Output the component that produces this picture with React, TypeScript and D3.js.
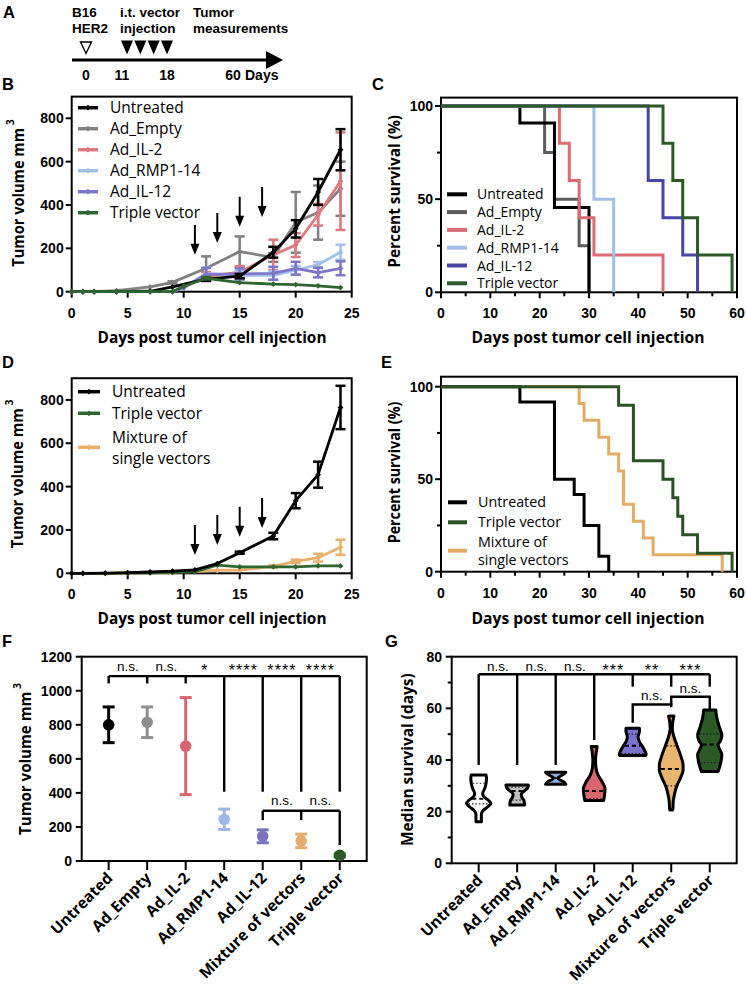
import React from "react";
import * as d3 from "d3";

const ARIAL = "'Liberation Sans', Arial, Helvetica, sans-serif";
const SANS = "'Open Sans', 'Noto Sans', sans-serif";

// ===== Panel A (schematic) =====
const timelineDays = [0, 11, 18, 60];
const injectionDoses = ["dose1", "dose2", "dose3", "dose4"];

// ===== Panel B =====
const bNames = ["Untreated", "Ad_Empty", "Ad_IL-2", "Ad_RMP1-14", "Ad_IL-12", "Triple vector"];
const bColors = ["#000000", "#808080", "#e07880", "#a0bfea", "#7e76c8", "#2f662f"];
const bDaysA = [0, 1, 2, 4, 7, 9, 12, 15, 18, 20, 22, 24];
const bDaysB = [0, 1, 2, 4, 7, 9, 10, 12, 15, 18, 20, 22, 24];
const bUntreatedMean = [0, 0, 0, 0, 2, 22, 58, 72, 182, 290, 460, 655];
const bUntreatedErr = [0, 0, 0, 0, 0, 3, 8, 10, 25, 40, 60, 95];
const bEmptyMean = [0, 0, 0, 5, 22, 43, 108, 185, 158, 320, 365, 475];
const bEmptyErr = [0, 0, 0, 1, 3, 5, 55, 70, 20, 140, 125, 125];
const bIL2Mean = [0, 0, 0, 0, 0, 0, 20, 70, 90, 170, 215, 355, 510];
const bIL2Err = [0, 0, 0, 0, 0, 0, 3, 20, 28, 70, 55, 50, 225];
const bRMPMean = [0, 0, 0, 0, 0, 0, 18, 85, 75, 75, 99, 125, 182];
const bRMPErr = [0, 0, 0, 0, 0, 0, 3, 25, 20, 20, 20, 12, 35];
const bIL12Mean = [0, 0, 0, 0, 0, 0, 18, 80, 82, 85, 108, 88, 108];
const bIL12Err = [0, 0, 0, 0, 0, 0, 3, 30, 25, 30, 30, 22, 32];
const bTripleMean = [0, 0, 0, 0, 0, 0, 25, 62, 42, 35, 33, 27, 19];
const bTripleErr = [0, 0, 0, 0, 0, 0, 2, 5, 4, 3, 3, 3, 2];
const bDrawOrder = [1, 2, 3, 4, 0, 5];
const growthXTicks = [0, 5, 10, 15, 20, 25];
const growthYTicks = [0, 200, 400, 600, 800];
const injectionDays = [11, 13, 15, 17];
const bArrowTips = [170, 225, 300, 345];

// ===== Panel C =====
const cNames = ["Untreated", "Ad_Empty", "Ad_IL-2", "Ad_RMP1-14", "Ad_IL-12", "Triple vector"];
const cColors = ["#000000", "#5c5c5c", "#dc6b72", "#9fbfe9", "#4945a6", "#2b5a26"];
const cUntreatedT = [16, 23, 30];
const cUntreatedS = [90.9, 45.5, 0];
const cEmptyT = [21, 23, 28, 30];
const cEmptyS = [75, 50, 25, 0];
const cIL2T = [24, 26, 28, 31, 45];
const cIL2S = [80, 60, 40, 20, 0];
const cRMPT = [31, 35];
const cRMPS = [50, 0];
const cIL12T = [42, 45, 49, 52];
const cIL12S = [60, 40, 20, 0];
const cTripleT = [45, 47, 49, 52, 59];
const cTripleS = [80, 60, 40, 20, 0];
const cDrawOrder = [1, 0, 2, 3, 4, 5];
const kmXTicks = [0, 10, 20, 30, 40, 50, 60];
const kmXMinor = [5, 15, 25, 35, 45, 55];
const kmYTicks = [0, 50, 100];
const kmYMinor = [25, 75];

// ===== Panel D =====
const dNames = ["Untreated", "Triple vector", "Mixture of single vectors"];
const dColors = ["#000000", "#2f662f", "#e8b06c"];
const dDays = [0, 1, 3, 5, 7, 9, 11, 13, 15, 18, 20, 22, 24];
const dUntreatedMean = [0, 0, 1, 3, 6, 10, 16, 45, 95, 172, 335, 455, 765];
const dUntreatedErr = [0, 0, 0, 0, 0, 0, 1, 3, 5, 15, 35, 60, 100];
const dTripleMean = [0, 0, 0, 1, 2, 5, 8, 38, 30, 30, 30, 34, 34];
const dTripleErr = [0, 0, 0, 0, 0, 0, 0, 3, 3, 3, 3, 3, 3];
const dMixMean = [0, 0, 0, 1, 2, 5, 8, 14, 15, 32, 55, 72, 120];
const dMixErr = [0, 0, 0, 0, 0, 0, 0, 3, 3, 5, 8, 18, 35];
const dDrawOrder = [2, 1, 0];
const dArrowTips = [85, 131, 169, 209];

// ===== Panel E =====
const eNames = ["Untreated", "Triple vector", "Mixture of single vectors"];
const eColors = ["#000000", "#2b5224", "#e3ab63"];
const eUntreatedT = [16, 23, 27, 29, 32, 34];
const eUntreatedS = [91.7, 50, 41.7, 25, 8.3, 0];
const eTripleT = [36, 39, 45, 47, 48, 49, 52, 59];
const eTripleS = [90, 60, 50, 40, 30, 20, 10, 0];
const eMixT = [28, 29, 32, 34, 36, 37, 39, 41, 43, 57];
const eMixS = [90.9, 81.8, 72.7, 63.6, 54.5, 36.4, 27.3, 18.2, 9.1, 0];
const eDrawOrder = [2, 0, 1];

// ===== Panel F =====
const fGroups = ["Untreated", "Ad_Empty", "Ad_IL-2", "Ad_RMP1-14", "Ad_IL-12", "Mixture of vectors", "Triple vector"];
const fColors = ["#000000", "#8e8e8e", "#d9666e", "#9db6e6", "#7b72c0", "#e4ad6a", "#2b5a27"];
const fMean = [800, 815, 675, 245, 145, 118, 33];
const fErr = [105, 90, 285, 60, 38, 40, 8];
const fYTicks = [0, 200, 400, 600, 800, 1000, 1200];
const fTopBracketY = 1086;
const fTopLegEnds = [1043, 1043, 1043, 407, 407, 407, 407];
const fTopLabels = ["n.s.", "n.s.", "*", "****", "****", "****"];
const fLowGroups = ["Ad_IL-12", "Mixture of vectors", "Triple vector"];
const fLowBracketY = 295;
const fLowLegEnds = [240, 240, 94];
const fLowLabels = ["n.s.", "n.s."];

// ===== Panel G =====
const gGroups = ["Untreated", "Ad_Empty", "Ad_RMP1-14", "Ad_IL-2", "Ad_IL-12", "Mixture of vectors", "Triple vector"];
const gFills = ["#ffffff", "#c2c2c2", "#8fb3e8", "#d9666e", "#7b72d0", "#e8b46e", "#2b5a27"];
const gMedian = [25, 28, 33, 28, 45.5, 36.5, 46];
const gQ1 = [23, 24.5, 31, 25, 42.5, 30, 39];
const gQ3 = [31, 29.5, 35, 38, 50, 45.5, 50];
// violin outlines: [survival value, relative density]
const gProfileUntreated = [[34.2, 0.55], [33, 0.58], [31, 0.55], [29, 0.45], [27, 0.3], [26, 0.35], [24.5, 0.7], [23.2, 0.9], [22, 0.7], [20.5, 0.35], [19, 0.2], [17.5, 0.2], [16.1, 0.2]];
const gProfileEmpty = [[30.3, 0.83], [29.5, 0.8], [28.5, 0.65], [27.5, 0.4], [26.5, 0.3], [25.5, 0.35], [24.3, 0.5], [22.6, 0.55]];
const gProfileRMP = [[35.3, 0.75], [34.5, 0.6], [33, 0.15], [31.5, 0.6], [30.6, 0.75]];
const gProfileIL2 = [[45.2, 0.22], [43, 0.15], [40, 0.1], [37, 0.13], [34, 0.3], [31.5, 0.6], [29, 0.8], [27, 0.78], [24.3, 0.7]];
const gProfileIL12 = [[52.3, 0.5], [51, 0.5], [49, 0.4], [47, 0.5], [45, 0.75], [43.5, 0.9], [42.2, 1.0], [41.7, 0.95]];
const gProfileMix = [[57, 0.2], [55, 0.12], [52, 0.08], [49, 0.2], [46, 0.4], [42, 0.68], [38, 0.88], [36, 0.88], [33, 0.68], [30, 0.42], [27, 0.25], [24, 0.15], [21, 0.12], [20.6, 0.1]];
const gProfileTriple = [[59.4, 0.45], [57, 0.5], [53, 0.7], [49.5, 0.9], [47.5, 0.8], [45.8, 0.62], [44, 0.75], [42, 0.9], [39, 0.82], [35.5, 0.62]];
const gYTicks = [0, 20, 40, 60, 80];
const gYMinor = [10, 30, 50, 70];
const gTopBracketY = 73.2;
const gTopLegEnds = [38.1, 38.1, 38.1, 47.7, 68.4, 68.4, 68.4];
const gTopLabels = ["n.s.", "n.s.", "n.s.", "***", "**", "***"];
const gPairBrackets = [
  { a: "Ad_IL-12", b: "Mixture of vectors", y: 61.5, endA: 54.4, endB: 60.4, label: "n.s.", labelY: 63.2 },
  { a: "Mixture of vectors", b: "Triple vector", y: 64.5, endA: 61.3, endB: 59.7, label: "n.s.", labelY: 66.0 },
];

// ---------- helpers ----------
function Frame({ x0, x1, yBottom, yTop }: any) {
  return <rect x={x0} y={yTop} width={x1 - x0} height={yBottom - yTop} fill="none" stroke="#000" strokeWidth={2} />;
}

function YAxis({ scale, x, ticks, minor = [], labelX }: any) {
  return (
    <g>
      {ticks.map((t: number) => (
        <g key={t}>
          <line x1={x - 6} x2={x} y1={scale(t)} y2={scale(t)} stroke="#000" strokeWidth={2} />
          <text x={labelX} y={scale(t)} dy="0.36em" textAnchor="end" fontFamily={ARIAL} fontWeight="bold" fontSize={14}>{t}</text>
        </g>
      ))}
      {minor.map((t: number) => (
        <line key={"m" + t} x1={x - 4} x2={x} y1={scale(t)} y2={scale(t)} stroke="#000" strokeWidth={2} />
      ))}
    </g>
  );
}

function XAxis({ scale, ticks, minor = [], y, labelY }: any) {
  return (
    <g>
      {ticks.map((t: number) => (
        <g key={t}>
          <line x1={scale(t)} x2={scale(t)} y1={y} y2={y + 6} stroke="#000" strokeWidth={2} />
          <text x={scale(t)} y={labelY} textAnchor="middle" fontFamily={ARIAL} fontWeight="bold" fontSize={14}>{t}</text>
        </g>
      ))}
      {minor.map((t: number) => (
        <line key={"m" + t} x1={scale(t)} x2={scale(t)} y1={y} y2={y + 4} stroke="#000" strokeWidth={2} />
      ))}
    </g>
  );
}

function XTitle({ cx, y, len, text }: any) {
  return (
    <text x={cx} y={y} textAnchor="middle" fontFamily={SANS} fontWeight="bold" fontSize={15.5} textLength={len} lengthAdjust="spacingAndGlyphs">{text}</text>
  );
}

function YTitle({ x, yStart, len, text, sup }: any) {
  return (
    <g transform={`translate(${x},${yStart}) rotate(-90)`}>
      <text x={0} y={0} fontFamily={SANS} fontWeight="bold" fontSize={15.5} textLength={len} lengthAdjust="spacingAndGlyphs">{text}</text>
      {sup ? <text x={len + 3} y={-10} fontFamily={SANS} fontWeight="bold" fontSize={10}>{sup}</text> : null}
    </g>
  );
}

function PanelLetter({ x, y, t }: any) {
  return <text x={x} y={y} fontFamily={ARIAL} fontWeight="bold" fontSize={16.5}>{t}</text>;
}

function SigLabel({ x, y, t }: any) {
  const star = t.startsWith("*");
  return (
    <text x={x} y={star ? y + 5 : y} textAnchor="middle" fontFamily={ARIAL} fontSize={star ? 16 : 13.5} letterSpacing={star ? 1.1 : 0}>{t}</text>
  );
}

const diamond = d3.symbol().type(d3.symbolSquare).size(17)() as string;

function GrowthPanel({ x, y, series, order, arrowTips, legend }: any) {
  const line = d3.line<any>().x((d) => x(d[0])).y((d) => y(d[1]));
  const arrowLen = 138;
  return (
    <g>
      <Frame x0={x.range()[0]} x1={x.range()[1]} yBottom={y(0)} yTop={y(y.domain()[1])} />
      <XAxis scale={x} ticks={growthXTicks} y={y(0)} labelY={y(0) + 26} />
      <YAxis scale={y} x={x.range()[0]} ticks={growthYTicks} labelX={x.range()[0] - 8} />
      {order.map((i: number) => {
        const s = series[i];
        const pts = s.days.map((d: number, k: number) => [d, s.mean[k], s.err[k]]);
        return (
          <g key={s.name}>
            <path d={line(pts) as string} fill="none" stroke={s.color} strokeWidth={2.8} strokeLinejoin="round" />
            {pts.filter((p: any) => p[2] >= 5).map((p: any, k: number) => (
              <g key={k} stroke={s.color} strokeWidth={2.5}>
                <line x1={x(p[0])} x2={x(p[0])} y1={y(p[1] - p[2])} y2={y(p[1] + p[2])} />
                <line x1={x(p[0]) - 5} x2={x(p[0]) + 5} y1={y(p[1] - p[2])} y2={y(p[1] - p[2])} />
                <line x1={x(p[0]) - 5} x2={x(p[0]) + 5} y1={y(p[1] + p[2])} y2={y(p[1] + p[2])} />
              </g>
            ))}
            {pts.map((p: any, k: number) => (
              <path key={"m" + k} d={diamond} transform={`translate(${x(p[0])},${y(p[1])}) rotate(45)`} fill={s.color} />
            ))}
          </g>
        );
      })}
      {injectionDays.map((d, k) => {
        const xd = x(d);
        const tip = y(arrowTips[k]);
        const top = y(arrowTips[k] + arrowLen);
        return (
          <g key={"a" + k}>
            <line x1={xd} x2={xd} y1={top} y2={tip - 8} stroke="#000" strokeWidth={2} />
            <path d={`M${xd - 4.5},${tip - 11}L${xd + 4.5},${tip - 11}L${xd},${tip}Z`} fill="#000" />
          </g>
        );
      })}
      {legend.map((L: any, k: number) => (
        <g key={"l" + k}>
          <line x1={L.x0} x2={L.x1} y1={L.y} y2={L.y} stroke={L.color} strokeWidth={3.5} />
          <path d={diamond} transform={`translate(${(L.x0 + L.x1) / 2},${L.y}) rotate(45)`} fill={L.color} />
          {L.lines.map((t: string, j: number) => (
            <text key={j} x={L.tx} y={L.ty[j]} fontFamily={SANS} fontSize={15.5}>{t}</text>
          ))}
        </g>
      ))}
    </g>
  );
}

function KMPanel({ x, y, curves, order, legend, fontSize }: any) {
  const line = d3.line<any>().x((d) => x(d[0])).y((d) => y(d[1])).curve(d3.curveStepAfter);
  return (
    <g>
      <Frame x0={x.range()[0]} x1={x.range()[1]} yBottom={y(0)} yTop={y(y.domain()[1])} />
      <XAxis scale={x} ticks={kmXTicks} minor={kmXMinor} y={y(0)} labelY={y(0) + 26} />
      <YAxis scale={y} x={x.range()[0]} ticks={kmYTicks} minor={kmYMinor} labelX={x.range()[0] - 8} />
      {order.map((i: number) => {
        const c = curves[i];
        const pts = [[0, 100], ...c.t.map((t: number, k: number) => [t, c.s[k]])];
        return <path key={c.name} d={line(pts) as string} fill="none" stroke={c.color} strokeWidth={3} strokeLinejoin="miter" />;
      })}
      {legend.map((L: any, k: number) => (
        <g key={"l" + k}>
          <line x1={L.x0} x2={L.x1} y1={L.y} y2={L.y} stroke={L.color} strokeWidth={4} />
          {L.lines.map((t: string, j: number) => (
            <text key={j} x={L.tx} y={L.ty[j]} fontFamily={SANS} fontSize={fontSize}>{t}</text>
          ))}
        </g>
      ))}
    </g>
  );
}

function CategoryLabels({ scale, groups, y }: any) {
  return (
    <g>
      {groups.map((g: string) => (
        <g key={g}>
          <line x1={scale(g)} x2={scale(g)} y1={y} y2={y + 9} stroke="#000" strokeWidth={2} />
          <text transform={`translate(${scale(g) + 5},${y + 18}) rotate(-45)`} textAnchor="end" fontFamily={SANS} fontWeight="bold" fontSize={15.5}>{g}</text>
        </g>
      ))}
    </g>
  );
}

export default function App() {
  // ---- Panel A scales
  const ax = d3.scaleLinear().domain(timelineDays).range([86, 122, 167, 233]);
  const injX = d3.scalePoint().domain(injectionDoses).range([127, 167]);

  // ---- Panel B
  const bx = d3.scaleLinear().domain([0, 25]).range([71.7, 351.7]);
  const by = d3.scaleLinear().domain([0, 900]).range([291.7, 291.7 - 900 * 0.21675]);
  const bSeries = [
    { name: bNames[0], color: bColors[0], days: bDaysA, mean: bUntreatedMean, err: bUntreatedErr },
    { name: bNames[1], color: bColors[1], days: bDaysA, mean: bEmptyMean, err: bEmptyErr },
    { name: bNames[2], color: bColors[2], days: bDaysB, mean: bIL2Mean, err: bIL2Err },
    { name: bNames[3], color: bColors[3], days: bDaysB, mean: bRMPMean, err: bRMPErr },
    { name: bNames[4], color: bColors[4], days: bDaysB, mean: bIL12Mean, err: bIL12Err },
    { name: bNames[5], color: bColors[5], days: bDaysB, mean: bTripleMean, err: bTripleErr },
  ];
  const bLegend = bNames.map((n, k) => ({ x0: 78, x1: 98, y: 107.7 + 21 * k, color: bColors[k], tx: 110, lines: [n], ty: [107.7 + 21 * k + 5.5] }));

  // ---- Panel C
  const cx = d3.scaleLinear().domain([0, 60]).range([441, 737]);
  const cy = d3.scaleLinear().domain([0, 104.5]).range([292.3, 292.3 - 104.5 * 1.863]);
  const cCurves = [
    { name: cNames[0], color: cColors[0], t: cUntreatedT, s: cUntreatedS },
    { name: cNames[1], color: cColors[1], t: cEmptyT, s: cEmptyS },
    { name: cNames[2], color: cColors[2], t: cIL2T, s: cIL2S },
    { name: cNames[3], color: cColors[3], t: cRMPT, s: cRMPS },
    { name: cNames[4], color: cColors[4], t: cIL12T, s: cIL12S },
    { name: cNames[5], color: cColors[5], t: cTripleT, s: cTripleS },
  ];
  const cLegend = cNames.map((n, k) => ({ x0: 447, x1: 467, y: 194.3 + 17.8 * k, color: cColors[k], tx: 477, lines: [n], ty: [194.3 + 17.8 * k + 5] }));

  // ---- Panel D
  const dx = d3.scaleLinear().domain([0, 25]).range([71.7, 351.7]);
  const dy = d3.scaleLinear().domain([0, 900]).range([573.3, 573.3 - 900 * 0.21675]);
  const dSeries = [
    { name: dNames[0], color: dColors[0], days: dDays, mean: dUntreatedMean, err: dUntreatedErr },
    { name: dNames[1], color: dColors[1], days: dDays, mean: dTripleMean, err: dTripleErr },
    { name: dNames[2], color: dColors[2], days: dDays, mean: dMixMean, err: dMixErr },
  ];
  const dLegend = [
    { x0: 78, x1: 100, y: 391.7, color: dColors[0], tx: 112, lines: ["Untreated"], ty: [397] },
    { x0: 78, x1: 100, y: 413.3, color: dColors[1], tx: 112, lines: ["Triple vector"], ty: [418.6] },
    { x0: 78, x1: 100, y: 447.3, color: dColors[2], tx: 112, lines: ["Mixture of", "single vectors"], ty: [442.6, 463.6] },
  ];

  // ---- Panel E
  const ex = d3.scaleLinear().domain([0, 60]).range([441, 737]);
  const ey = d3.scaleLinear().domain([0, 105.4]).range([571.7, 571.7 - 105.4 * 1.85]);
  const eCurves = [
    { name: eNames[0], color: eColors[0], t: eUntreatedT, s: eUntreatedS },
    { name: eNames[1], color: eColors[1], t: eTripleT, s: eTripleS },
    { name: eNames[2], color: eColors[2], t: eMixT, s: eMixS },
  ];
  const eLegend = [
    { x0: 448, x1: 467, y: 502.3, color: eColors[0], tx: 478, lines: ["Untreated"], ty: [507.3] },
    { x0: 448, x1: 467, y: 522.3, color: eColors[1], tx: 478, lines: ["Triple vector"], ty: [527.3] },
    { x0: 448, x1: 467, y: 550.7, color: eColors[2], tx: 478, lines: ["Mixture of", "single vectors"], ty: [546.7, 565] },
  ];

  // ---- Panel F
  const fx = d3.scalePoint().domain(fGroups).range([81.7, 366.7]).padding(0.7);
  const fy = d3.scaleLinear().domain([0, 1200]).range([861, 656.7]);
  const fxs = (g: string) => fx(g) as number;

  // ---- Panel G
  const gx = d3.scalePoint().domain(gGroups).range([451.7, 736.7]).padding(0.7);
  const gy = d3.scaleLinear().domain([0, 80]).range([863.3, 656.7]);
  const gxs = (g: string) => gx(g) as number;
  const gProfiles = [gProfileUntreated, gProfileEmpty, gProfileRMP, gProfileIL2, gProfileIL12, gProfileMix, gProfileTriple];
  const halfW = 13.5;

  return (
    <svg width={747} height={988} style={{ position: "absolute", left: 0, top: 0, background: "#fff" }}>
      <rect width={747} height={988} fill="#fff" />

      {/* ===== A ===== */}
      <PanelLetter x={3} y={18} t="A" />
      <g fontFamily={ARIAL} fontWeight="bold" fontSize={13.5}>
        <text x={72} y={17}>B16</text>
        <text x={72} y={33}>HER2</text>
        <text x={120} y={17}>i.t. vector</text>
        <text x={120} y={33}>injection</text>
        <text x={193} y={17}>Tumor</text>
        <text x={193} y={33}>measurements</text>
      </g>
      <line x1={72} x2={268} y1={60} y2={60} stroke="#000" strokeWidth={3} />
      <path d="M266,51L283,60L266,69Z" fill="#000" />
      <path d={`M${ax(0) - 5.5},42L${ax(0) + 5.5},42L${ax(0)},53.5Z`} fill="#fff" stroke="#000" strokeWidth={1.4} />
      {injectionDoses.map((d) => (
        <path key={d} d={`M${(injX(d) as number) - 6},40.5L${(injX(d) as number) + 6},40.5L${injX(d)},54.5Z`} fill="#000" />
      ))}
      {timelineDays.map((d) => (
        <text key={d} x={ax(d)} y={80} textAnchor="middle" fontFamily={ARIAL} fontWeight="bold" fontSize={14}>{d}</text>
      ))}
      <text x={245} y={80} fontFamily={ARIAL} fontWeight="bold" fontSize={14}>Days</text>

      {/* ===== B ===== */}
      <PanelLetter x={2} y={90} t="B" />
      <GrowthPanel x={bx} y={by} series={bSeries} order={bDrawOrder} arrowTips={bArrowTips} legend={bLegend} />
      <XTitle cx={212} y={343} len={229} text="Days post tumor cell injection" />
      <YTitle x={24} yStart={266.7} len={138.7} text="Tumor volume mm" sup="3" />

      {/* ===== C ===== */}
      <PanelLetter x={372} y={90} t="C" />
      <KMPanel x={cx} y={cy} curves={cCurves} order={cDrawOrder} legend={cLegend} fontSize={14} />
      <XTitle cx={588} y={343} len={233} text="Days post tumor cell injection" />
      <YTitle x={400} yStart={267.7} len={152.7} text="Percent survival (%)" />

      {/* ===== D ===== */}
      <PanelLetter x={2} y={368} t="D" />
      <GrowthPanel x={dx} y={dy} series={dSeries} order={dDrawOrder} arrowTips={dArrowTips} legend={dLegend} />
      <XTitle cx={212} y={624} len={229} text="Days post tumor cell injection" />
      <YTitle x={23} yStart={548.3} len={140} text="Tumor volume mm" sup="3" />

      {/* ===== E ===== */}
      <PanelLetter x={381} y={368} t="E" />
      <KMPanel x={ex} y={ey} curves={eCurves} order={eDrawOrder} legend={eLegend} fontSize={14.3} />
      <XTitle cx={588} y={624} len={233} text="Days post tumor cell injection" />
      <YTitle x={400} yStart={543.3} len={141.7} text="Percent survival (%)" />

      {/* ===== F ===== */}
      <PanelLetter x={2} y={647} t="F" />
      <Frame x0={81.7} x1={366.7} yBottom={fy(0)} yTop={fy(1200)} />
      <YAxis scale={fy} x={81.7} ticks={fYTicks} labelX={72} />
      <CategoryLabels scale={fx} groups={fGroups} y={fy(0)} />
      <g stroke="#000" strokeWidth={2.4} fill="none">
        <line x1={fxs(fGroups[0])} x2={fxs(fGroups[6])} y1={fy(fTopBracketY)} y2={fy(fTopBracketY)} />
        {fGroups.map((g, k) => (
          <line key={g} x1={fxs(g)} x2={fxs(g)} y1={fy(fTopBracketY)} y2={fy(fTopLegEnds[k])} />
        ))}
        <line x1={fxs(fLowGroups[0])} x2={fxs(fLowGroups[2])} y1={fy(fLowBracketY)} y2={fy(fLowBracketY)} />
        {fLowGroups.map((g, k) => (
          <line key={g} x1={fxs(g)} x2={fxs(g)} y1={fy(fLowBracketY)} y2={fy(fLowLegEnds[k])} />
        ))}
      </g>
      {fTopLabels.map((t, k) => (
        <SigLabel key={k} x={(fxs(fGroups[k]) + fxs(fGroups[k + 1])) / 2} y={fy(1116)} t={t} />
      ))}
      {fLowLabels.map((t, k) => (
        <SigLabel key={k} x={(fxs(fLowGroups[k]) + fxs(fLowGroups[k + 1])) / 2} y={fy(329)} t={t} />
      ))}
      {fGroups.map((g, k) => (
        <g key={g} stroke={fColors[k]} strokeWidth={3}>
          <line x1={fxs(g)} x2={fxs(g)} y1={fy(fMean[k] - fErr[k])} y2={fy(fMean[k] + fErr[k])} />
          <line x1={fxs(g) - 6} x2={fxs(g) + 6} y1={fy(fMean[k] - fErr[k])} y2={fy(fMean[k] - fErr[k])} />
          <line x1={fxs(g) - 6} x2={fxs(g) + 6} y1={fy(fMean[k] + fErr[k])} y2={fy(fMean[k] + fErr[k])} />
          <circle cx={fxs(g)} cy={fy(fMean[k])} r={5.8} fill={fColors[k]} stroke="none" />
        </g>
      ))}
      <YTitle x={31} yStart={835} len={143.3} text="Tumor volume mm" sup="3" />

      {/* ===== G ===== */}
      <PanelLetter x={385} y={647} t="G" />
      <Frame x0={451.7} x1={736.7} yBottom={gy(0)} yTop={gy(80)} />
      <YAxis scale={gy} x={451.7} ticks={gYTicks} minor={gYMinor} labelX={442} />
      <CategoryLabels scale={gx} groups={gGroups} y={gy(0)} />
      <g stroke="#000" strokeWidth={2.4} fill="none">
        <line x1={gxs(gGroups[0])} x2={gxs(gGroups[6])} y1={gy(gTopBracketY)} y2={gy(gTopBracketY)} />
        {gGroups.map((g, k) => (
          <line key={g} x1={gxs(g)} x2={gxs(g)} y1={gy(gTopBracketY)} y2={gy(gTopLegEnds[k])} />
        ))}
        {gPairBrackets.map((b, k) => (
          <path key={k} d={`M${gxs(b.a)},${gy(b.endA)}V${gy(b.y)}H${gxs(b.b)}V${gy(b.endB)}`} />
        ))}
      </g>
      {gTopLabels.map((t, k) => (
        <SigLabel key={k} x={(gxs(gGroups[k]) + gxs(gGroups[k + 1])) / 2} y={gy(74.4)} t={t} />
      ))}
      {gPairBrackets.map((b, k) => (
        <SigLabel key={k} x={(gxs(b.a) + gxs(b.b)) / 2} y={gy(b.labelY)} t={b.label} />
      ))}
      {gGroups.map((g, k) => {
        const prof = gProfiles[k];
        const c = gxs(g);
        const area = d3.area<any>()
          .y((d) => gy(d[0]))
          .x0((d) => c - d[1] * halfW)
          .x1((d) => c + d[1] * halfW)
          .curve(d3.curveMonotoneY);
        const wAt = d3.scaleLinear().domain(prof.map((p) => p[0])).range(prof.map((p) => p[1])).clamp(true);
        const seg = (v: number) => [c - wAt(v) * halfW + 1.5, c + wAt(v) * halfW - 1.5];
        return (
          <g key={g}>
            <path d={area(prof) as string} fill={gFills[k]} stroke="#000" strokeWidth={3} strokeLinejoin="round" />
            {[gQ1[k], gQ3[k]].map((q, j) => {
              const [a, b] = seg(q);
              return <line key={j} x1={a} x2={b} y1={gy(q)} y2={gy(q)} stroke="#222" strokeWidth={1.2} strokeDasharray="1.5,2" />;
            })}
            {(() => {
              const [a, b] = seg(gMedian[k]);
              return <line x1={a} x2={b} y1={gy(gMedian[k])} y2={gy(gMedian[k])} stroke="#000" strokeWidth={2} strokeDasharray="4,3" />;
            })()}
          </g>
        );
      })}
      <YTitle x={413} yStart={846} len={172.7} text="Median survival (days)" />
    </svg>
  );
}
